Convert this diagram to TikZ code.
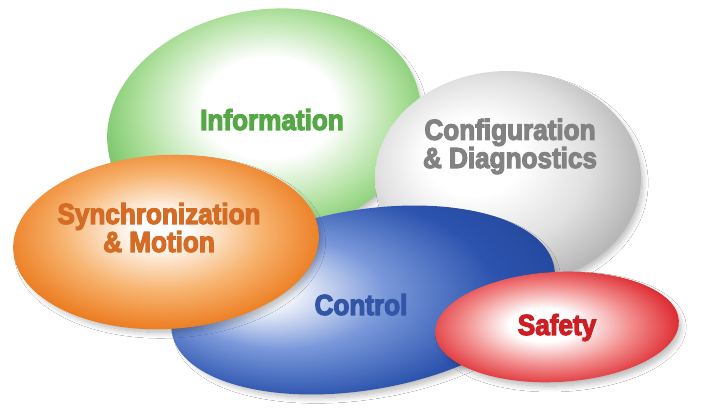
\documentclass[tikz,border=0pt]{standalone}
\usepackage{fontspec}
\newfontfamily\heavy[FakeStretch=0.9, FakeBold=4]{Liberation Sans Bold}
\usetikzlibrary{shapes.geometric,shadows.blur}

\definecolor{grim}{RGB}{92,182,76}
\definecolor{gmid}{RGB}{170,222,152}
\definecolor{gedge}{RGB}{80,170,64}
\definecolor{srim}{RGB}{172,172,172}
\definecolor{smid}{RGB}{224,224,224}
\definecolor{sedge}{RGB}{150,150,150}
\definecolor{orim}{RGB}{236,124,32}
\definecolor{omid}{RGB}{247,180,112}
\definecolor{oedge}{RGB}{222,106,20}
\definecolor{brim}{RGB}{44,84,174}
\definecolor{bmid}{RGB}{122,152,218}
\definecolor{bedge}{RGB}{32,66,150}
\definecolor{rrim}{RGB}{220,36,42}
\definecolor{rmid}{RGB}{242,140,140}
\definecolor{redge}{RGB}{200,20,28}

\definecolor{tgreen}{RGB}{86,168,70}
\definecolor{tgray}{RGB}{130,130,130}
\definecolor{torange}{RGB}{212,108,38}
\definecolor{tblue}{RGB}{50,85,165}
\definecolor{tred}{RGB}{205,30,35}

\pgfdeclareradialshading{shgreen}{\pgfpoint{1bp}{4bp}}{color(0bp)=(white); color(10bp)=(white); color(20bp)=(gmid); color(29bp)=(grim); color(35bp)=(gedge); color(50bp)=(gedge)}
\pgfdeclareradialshading{shgray}{\pgfpoint{-8bp}{6bp}}{color(0bp)=(white); color(9bp)=(white); color(20bp)=(smid); color(31bp)=(srim); color(35bp)=(sedge); color(50bp)=(sedge)}
\pgfdeclareradialshading{shorange}{\pgfpoint{-1bp}{4bp}}{color(0bp)=(white); color(4bp)=(white); color(16bp)=(omid); color(26bp)=(orim); color(35bp)=(oedge); color(50bp)=(oedge)}
\pgfdeclareradialshading{shblue}{\pgfpoint{-14bp}{2bp}}{color(0bp)=(white); color(3bp)=(white); color(13bp)=(bmid); color(24bp)=(brim); color(35bp)=(bedge); color(50bp)=(bedge)}
\pgfdeclareradialshading{shred}{\pgfpoint{-3bp}{1bp}}{color(0bp)=(white); color(7bp)=(white); color(17bp)=(rmid); color(27bp)=(rrim); color(35bp)=(redge); color(50bp)=(redge)}

\tikzset{
  blob/.style={ellipse, inner sep=0pt, outer sep=0pt,
    blur shadow={shadow xshift=4pt, shadow yshift=-5pt, shadow blur radius=6pt,
      shadow blur steps=12, shadow opacity=30, shadow scale=0.98}},
  lbl/.style={font=\heavy\fontsize{29}{27}\selectfont, align=center, inner sep=0pt, anchor=base},
}

\begin{document}
\begin{tikzpicture}[x=1pt,y=-1pt]
\fill[white] (0,0) rectangle (710,419);
\useasboundingbox (0,0) rectangle (710,419);

\node[blob, shading=shgreen, minimum width=316pt, minimum height=228pt, rotate=10] (info) at (264,124) {};
\node[blob, shading=shgray, minimum width=266pt, minimum height=214pt] (config) at (508,178) {};
\node[blob, shading=shblue, minimum width=388pt, minimum height=180pt, rotate=9.6] (control) at (363,300) {};
\node[blob, shading=shorange, minimum width=306pt, minimum height=174pt, rotate=3] (sync) at (166,242) {};
\node[blob, shading=shred, minimum width=244pt, minimum height=110pt, rotate=3] (safety) at (557,327) {};

\node[lbl, text=tgreen] (infot) at (272,130) {Information};
\node[lbl, text=tgray] (configt) at (510,168) {Configuration\\\& Diagnostics};
\node[lbl, text=torange] (synct) at (159,252) {Synchronization\\\& Motion};
\node[lbl, text=tblue] (controlt) at (361,315) {Control};
\node[lbl, text=tred] (safetyt) at (557,335) {Safety};
\end{tikzpicture}
\end{document}
